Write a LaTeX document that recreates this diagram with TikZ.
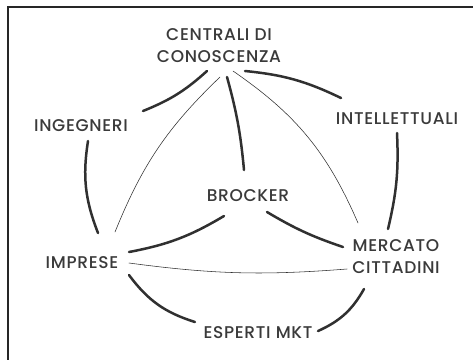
\documentclass[tikz,border=0pt]{standalone}
\usepackage{fontspec}
\setmainfont{Poppins Medium}[LetterSpace=4]
\usetikzlibrary{calc}
\definecolor{ink}{HTML}{3A3A3A}
\definecolor{wire}{HTML}{303030}
\tikzset{
  label/.style={text=ink, font=\fontsize{17}{22}\selectfont, align=center, inner sep=0pt},
  strong/.style={draw=wire, line width=2.5pt, line cap=round},
  faint/.style={draw=wire, line width=0.55pt, line cap=round},
  frame/.style={draw=black!85, line width=1.4pt}
}
\begin{document}
\begin{tikzpicture}[x=1pt,y=-1pt]
  \useasboundingbox (0,0) rectangle (473,360);
  \fill[white] (0,0) rectangle (473,360);
  % open frame: top and left edges only
  \draw[frame] (473,7) -- (8,7) -- (8,360);

  % actors
  \node[label] (cen) at (219,46) {CENTRALI DI\\CONOSCENZA};
  \node[label] (ing) at (81,126) {INGEGNERI};
  \node[label] (int) at (397,119) {INTELLETTUALI};
  \node[label] (bro) at (248,196) {BROCKER};
  \node[label] (imp) at (82,263) {IMPRESE};
  \node[label] (mer) at (396,257) {MERCATO\\CITTADINI};
  \node[label] (esp) at (258,333) {ESPERTI MKT};

  % strong ties around the ring
  \draw[strong] ($(cen)+(-12,25)$) to[bend left=10] ($(ing)+(62,-15)$);
  \draw[strong] ($(cen)+(26,25)$) to[bend left=10] ($(int)+(-56,-21)$);
  \draw[strong] ($(ing)+(7,15)$) to[bend right=15] ($(imp)+(16,-30)$);
  \draw[strong] ($(int)+(0,14)$) to[bend left=8] ($(mer)+(-8,-28)$);
  \draw[strong] ($(imp)+(47,12)$) to[bend right=18] ($(esp)+(-63,-11)$);
  \draw[strong] ($(esp)+(60,-2)$) to[bend right=18] ($(mer)+(-32,32)$);

  % strong ties to the broker
  \draw[strong] ($(cen)+(8,31)$) to[bend left=5] ($(bro)+(-4,-26)$);
  \draw[strong] ($(bro)+(-24,20)$) to[bend left=10] ($(imp)+(47,-11)$);
  \draw[strong] ($(bro)+(19,16)$) to[bend right=6] ($(mer)+(-53,-10)$);

  % weak ties
  \draw[faint] ($(cen)+(1,31)$) to[bend right=12] ($(imp)+(33,-31)$);
  \draw[faint] ($(cen)+(14,25)$) to[bend left=16] ($(mer)+(-38,-34)$);
  \draw[faint] ($(imp)+(47,0)$) to[bend right=6] ($(mer)+(-49,12)$);
\end{tikzpicture}
\end{document}
